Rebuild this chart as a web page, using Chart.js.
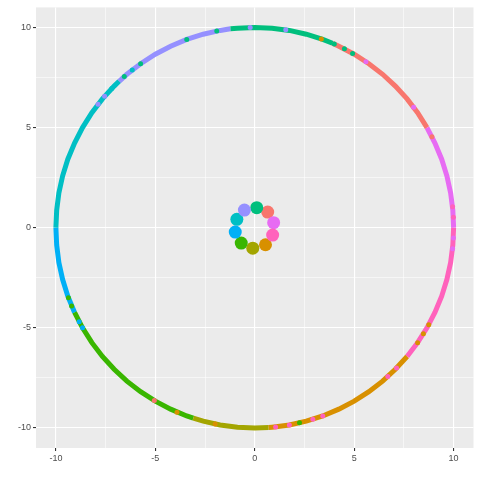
<!DOCTYPE html>
<html>
<head>
<meta charset="utf-8">
<script src="https://cdn.jsdelivr.net/npm/chart.js@4/dist/chart.umd.min.js"></script>
<style>
    html, body { margin: 0; padding: 0; background: #FFFFFF; }
    canvas { display: block; }
</style>
</head>
<body>
<canvas id="plot" width="480" height="480"></canvas>
<script>
// cluster ids and ggplot hue colours (10 clusters)
const CLUSTERS = [1, 2, 3, 4, 5, 6, 7, 8, 9, 10];
const COLORS = [
    '#F8766D', '#D89000', '#A3A500', '#39B600', '#00BF7D',
    '#00BFC4', '#00B0F6', '#9590FF', '#E76BF3', '#FF62BC'
];

// ring points, one arc per cluster (x, y)
const RING_1 = [[8.66, 5.00], [8.19, 5.74], [7.66, 6.43], [7.07, 7.07], [6.43, 7.66], [5.74, 8.19], [5.00, 8.66], [4.23, 9.06], [3.91, 9.21]];
const RING_2 = [[0.70, -9.98], [0.87, -9.96], [1.74, -9.85], [2.59, -9.66], [3.42, -9.40], [4.23, -9.06], [5.00, -8.66], [5.74, -8.19], [6.43, -7.66], [7.07, -7.07], [7.66, -6.43]];
const RING_3 = [[-3.09, -9.51], [-2.59, -9.66], [-1.74, -9.85], [-0.87, -9.96], [0.00, -10.00], [0.70, -9.98]];
const RING_4 = [[-9.06, -4.23], [-8.66, -5.00], [-8.19, -5.74], [-7.66, -6.43], [-7.07, -7.07], [-6.43, -7.66], [-5.74, -8.19], [-5.00, -8.66], [-4.23, -9.06], [-3.42, -9.40], [-3.09, -9.51]];
const RING_5 = [[3.91, 9.21], [3.42, 9.40], [2.59, 9.66], [1.74, 9.85], [0.87, 9.96], [0.00, 10.00], [-0.87, 9.96], [-1.22, 9.93]];
const RING_6 = [[-6.82, 7.31], [-7.07, 7.07], [-7.66, 6.43], [-8.19, 5.74], [-8.66, 5.00], [-9.06, 4.23], [-9.40, 3.42], [-9.66, 2.59], [-9.85, 1.74], [-9.96, 0.87], [-10.00, 0.00]];
const RING_7 = [[-10.00, 0.00], [-9.96, -0.87], [-9.85, -1.74], [-9.66, -2.59], [-9.40, -3.42], [-9.06, -4.23]];
const RING_8 = [[-1.22, 9.93], [-1.74, 9.85], [-2.59, 9.66], [-3.42, 9.40], [-4.23, 9.06], [-5.00, 8.66], [-5.74, 8.19], [-6.43, 7.66], [-6.82, 7.31]];
const RING_9 = [[10.00, 0.00], [9.96, 0.87], [9.85, 1.74], [9.66, 2.59], [9.40, 3.42], [9.06, 4.23], [8.66, 5.00]];
const RING_10 = [[7.66, -6.43], [8.19, -5.74], [8.66, -5.00], [9.06, -4.23], [9.40, -3.42], [9.66, -2.59], [9.85, -1.74], [9.96, -0.87], [10.00, 0.00]];
const RINGS = [RING_1, RING_2, RING_3, RING_4, RING_5, RING_6, RING_7, RING_8, RING_9, RING_10];

// points that sit inside a neighbouring cluster's arc
const STRAY_X = [4.00, 4.51, 4.92, -5.74, -6.56, -3.42, -1.91, 3.35, -0.23, 1.56, -7.88, -7.55, -7.19, -6.16,
    5.59, 7.99, 8.91, 9.99, 9.95, 9.99, 9.95, 8.48, 8.19, 8.75, 7.13, 6.69, 2.92, 3.42, 1.74, 1.05,
    2.25, -5.05, -3.91, -1.99, -9.37, -9.21, -8.66, -8.83];
const STRAY_Y = [9.17, 8.93, 8.70, 8.19, 7.55, 9.40, 9.82, 9.42, 10.00, 9.88, 6.16, 6.56, 6.95, 7.88,
    8.29, 6.02, 4.54, 0.52, 1.05, -0.52, -1.05, -5.30, -5.74, -4.85, -7.01, -7.43, -9.56, -9.40, -9.85, -9.95,
    -9.74, -8.63, -9.21, -9.80, -3.50, -3.91, -5.00, -4.69];
const STRAY_CLUSTER = [5, 5, 5, 5, 5, 5, 5, 2, 8, 8, 8, 8, 6, 6,
    9, 9, 1, 10, 10, 9, 9, 2, 2, 2, 10, 10, 10, 10, 10, 10,
    4, 1, 2, 2, 4, 4, 7, 7];

// cluster centres
const CENTER_X = [0.65, 0.54, -0.10, -0.68, 0.10, -0.90, -0.98, -0.52, 0.95, 0.90];
const CENTER_Y = [0.78, -0.85, -1.02, -0.77, 1.00, 0.42, -0.22, 0.88, 0.25, -0.37];

// axis ticks
const MAJOR_TICKS = [-10, -5, 0, 5, 10];
const MINOR_TICKS = [-7.5, -2.5, 2.5, 7.5];
const AXIS_MIN = -11;
const AXIS_MAX = 11;

const PANEL = '#EBEBEB';
const TEXT = '#4D4D4D';

const panel_bg = {
    id: 'panel_bg',
    beforeDraw(chart) {
        const { ctx, chartArea: a } = chart;
        ctx.save();
        ctx.fillStyle = PANEL;
        ctx.fillRect(a.left, a.top, a.right - a.left, a.bottom - a.top);
        ctx.restore();
    }
};

function make_axis(size) {
    const all = MAJOR_TICKS.concat(MINOR_TICKS).sort((a, b) => a - b);
    const is_major = v => MAJOR_TICKS.includes(v);
    return {
        type: 'linear',
        min: AXIS_MIN,
        max: AXIS_MAX,
        afterBuildTicks: scale => { scale.ticks = all.map(v => ({ value: v })); },
        afterFit: scale => {
            if (scale.isHorizontal()) scale.height = size;
            else scale.width = size;
        },
        border: { display: false },
        grid: {
            color: '#FFFFFF',
            lineWidth: c => c.tick && is_major(c.tick.value) ? 1.1 : 0.55,
            drawTicks: true,
            tickLength: 3,
            tickWidth: 1.1,
            tickColor: c => c.tick && is_major(c.tick.value) ? '#333333' : 'rgba(0,0,0,0)'
        },
        ticks: {
            autoSkip: false,
            maxRotation: 0,
            padding: 2,
            color: TEXT,
            font: { family: '"Liberation Sans", Arial, sans-serif', size: 9 },
            callback: v => is_major(v) ? String(v) : ''
        }
    };
}

function build_datasets() {
    const sets = [];
    CLUSTERS.forEach((c, i) => {
        sets.push({
            label: 'ring ' + c,
            data: RINGS[i].map(p => ({ x: p[0], y: p[1] })),
            showLine: true,
            borderColor: COLORS[i],
            borderWidth: 5,
            borderCapStyle: 'butt',
            pointRadius: 0,
            tension: 0,
            order: 3
        });
    });
    sets.push({
        label: 'stray',
        data: STRAY_X.map((x, i) => ({ x: x, y: STRAY_Y[i] })),
        backgroundColor: STRAY_CLUSTER.map(c => COLORS[c - 1]),
        borderWidth: 0,
        pointRadius: 2.5,
        order: 2
    });
    sets.push({
        label: 'centers',
        data: CENTER_X.map((x, i) => ({ x: x, y: CENTER_Y[i] })),
        backgroundColor: COLORS,
        borderWidth: 0,
        pointRadius: 6.5,
        order: 1
    });
    return sets;
}

window.onload = () => {
    new Chart(document.getElementById('plot'), {
        type: 'scatter',
        data: { datasets: build_datasets() },
        options: {
            responsive: false,
            animation: false,
            layout: { padding: { top: 5.5, right: 5.5, left: 0, bottom: 0 } },
            plugins: { legend: { display: false }, tooltip: { enabled: false } },
            scales: {
                x: make_axis(32),
                y: make_axis(36)
            }
        },
        plugins: [panel_bg]
    });
};
</script>
</body>
</html>
